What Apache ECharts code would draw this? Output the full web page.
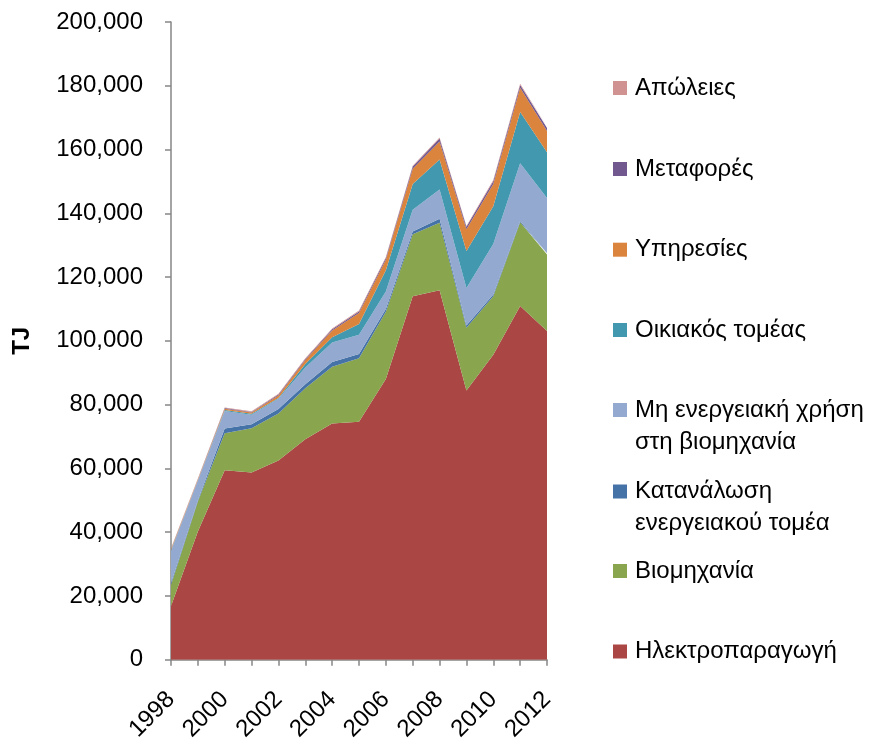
<!DOCTYPE html>
<html>
<head>
<meta charset="utf-8">
<script src="https://cdn.jsdelivr.net/npm/echarts@6/dist/echarts.min.js"></script>
<style>html,body{margin:0;padding:0;background:#fff}#c{width:875px;height:744px}</style>
</head>
<body>
<div id="c"></div>
<script>
const years = ['1998','1999','2000','2001','2002','2003','2004','2005','2006','2007','2008','2009','2010','2011','2012'];
const electricity = [16800,40200,59400,58700,62500,69100,74050,74600,88000,114000,115900,84400,95600,110950,103050];
const industry    = [6600,9400,11600,13900,14700,16000,17850,19900,21100,19400,21100,19700,18400,26250,24050];
const energySector= [600,400,1500,1200,1450,1300,1450,1350,900,900,1250,700,500,400,400];
const nonEnergy   = [10100,6200,5500,3000,3150,5250,6150,6050,5500,6850,9200,11800,15900,18100,17300];
const household   = [200,100,300,300,300,1050,1600,3400,6600,8000,9450,11550,11800,16050,14350];
const services    = [300,200,400,400,750,1300,2100,3400,3300,4850,5650,6850,6950,7600,6700];
const transport   = [100,100,200,200,300,300,400,500,600,650,900,750,900,900,900];
const losses      = [200,200,200,200,250,250,250,300,300,300,300,300,400,400,400];
const yTicks = [0,20000,40000,60000,80000,100000,120000,140000,160000,180000,200000];

const names = ['Ηλεκτροπαραγωγή','Βιομηχανία','Κατανάλωση\nενεργειακού τομέα','Μη ενεργειακή χρήση\nστη βιομηχανία','Οικιακός τομέας','Υπηρεσίες','Μεταφορές','Απώλειες'];
const values = [electricity,industry,energySector,nonEnergy,household,services,transport,losses];
const colors = ['#AA4643','#89A54E','#4572A7','#93A9CF','#4198AF','#DB843D','#71588F','#D19392'];
const legendCenters = [651.5,571,491.5,410,330,249.7,169,88]; // icon centre y of each legend item
const FONT = 'Liberation Sans';
const LH = 32;

const chart = echarts.init(document.getElementById('c'), null, {renderer:'canvas'});
const series = names.map((n,i)=>({
  name:n, type:'line', stack:'total', data:values[i], showSymbol:false, symbol:'none',
  lineStyle:{width:0}, areaStyle:{color:colors[i], opacity:1}, itemStyle:{color:colors[i]}, z:2
}));
const legends = names.map((n,i)=>{
  const two = n.indexOf('\n')>=0;
  return {
    data:[n], left:613, top: two ? legendCenters[i]-1.5*LH : legendCenters[i]-LH/2,
    orient:'vertical', itemWidth:14, itemHeight:14, itemGap:0, padding:0,
    icon:'rect', selectedMode:false,
    formatter: two ? (nm => '\n' + nm) : (nm => nm),
    textStyle:{fontFamily:FONT, fontSize:24, color:'#000', lineHeight:LH, padding:[0,0,0,3]}
  };
});
chart.setOption({
  animation:false,
  backgroundColor:'#fff',
  textStyle:{fontFamily:FONT},
  grid:{left:171, right:328, top:22, bottom:80, containLabel:false},
  legend:legends,
  xAxis:{
    type:'category', data:years, boundaryGap:false,
    axisLine:{lineStyle:{color:'#868686', width:1.5}},
    axisTick:{show:true, alignWithLabel:true, interval:0, length:6, lineStyle:{color:'#868686', width:1.5}},
    axisLabel:{interval:1, rotate:45, margin:36, fontSize:24, color:'#000', fontFamily:FONT},
    splitLine:{show:false}
  },
  yAxis:{
    type:'value', min:0, max:200000, interval:20000,
    name:'TJ', nameLocation:'middle', nameRotate:90, nameGap:137,
    nameTextStyle:{fontSize:24, fontWeight:'bold', color:'#000', fontFamily:FONT},
    axisLine:{show:true, lineStyle:{color:'#868686', width:1.5}},
    axisTick:{show:true, length:6, lineStyle:{color:'#868686', width:1.5}},
    axisLabel:{fontSize:24, color:'#000', margin:28, fontFamily:FONT,
      formatter:v=>yTicks.includes(v)?v.toLocaleString('en-US'):''},
    splitLine:{show:false}
  },
  series:series
});
</script>
</body>
</html>
